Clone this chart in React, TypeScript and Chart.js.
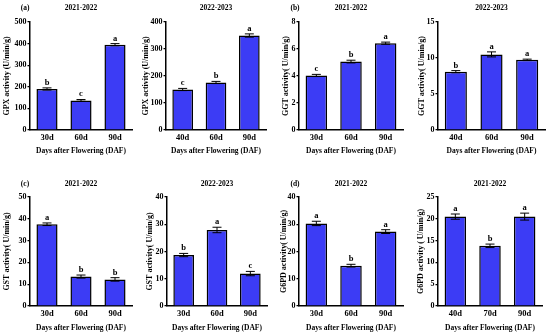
import React, { useEffect, useRef } from "react";
import { Chart, registerables } from "chart.js";
Chart.register(...registerables);

// ---- data ----
const labelsA = ["30d", "60d", "90d"];
const labelsB = ["40d", "60d", "90d"];
const labelsC = ["30d", "60d", "90d"];
const labelsD = ["40d", "70d", "90d"];

const gpx2122 = [190, 137, 395];
const gpx2122Err = [5, 4, 5];
const gpx2122Sig = ["b", "c", "a"];

const gpx2223 = [150, 176, 350];
const gpx2223Err = [4, 4, 6];
const gpx2223Sig = ["c", "b", "a"];

const ggt2122 = [4.04, 5.07, 6.43];
const ggt2122Err = [0.08, 0.1, 0.08];
const ggt2122Sig = ["c", "b", "a"];

const ggt2223 = [8.1, 10.5, 9.74];
const ggt2223Err = [0.15, 0.35, 0.1];
const ggt2223Sig = ["b", "a", "a"];

const gst2122 = [37.5, 13.5, 12.2];
const gst2122Err = [0.6, 0.7, 0.8];
const gst2122Sig = ["a", "b", "b"];

const gst2223 = [18.7, 27.9, 11.9];
const gst2223Err = [0.6, 1.0, 0.8];
const gst2223Sig = ["b", "a", "c"];

const g6pdA = [30.3, 14.8, 27.3];
const g6pdAErr = [0.8, 0.5, 0.7];
const g6pdASig = ["a", "b", "a"];

const g6pdB = [20.5, 13.8, 20.5];
const g6pdBErr = [0.6, 0.4, 0.8];
const g6pdBSig = ["a", "b", "a"];

const yMaxes = [500, 400, 8, 15, 50, 40, 40, 25];
const ySteps = [100, 100, 2, 5, 10, 10, 10, 5];
const titles = ["2021-2022", "2022-2023", "2021-2022", "2022-2023", "2021-2022", "2022-2023", "2021-2022", "2021-2022"];
const yTitles = [
  "GPX activity (U/min/g)",
  "GPX activity (U/min/g)",
  "GGT activity( U/min/g)",
  "GGT activity( U/min/g)",
  "GST activity( U/min/g)",
  "GST activity( U/min/g)",
  "G6PD activity( U/min/g)",
  "G6PD activity ( U/min/g)",
];
const tags = ["(a)", "", "(b)", "", "(c)", "", "(d)", ""];
const xTitle = "Days after Flowering (DAF)";

const panels = [
  { labels: labelsA, values: gpx2122, errors: gpx2122Err, sig: gpx2122Sig },
  { labels: labelsB, values: gpx2223, errors: gpx2223Err, sig: gpx2223Sig },
  { labels: labelsA, values: ggt2122, errors: ggt2122Err, sig: ggt2122Sig },
  { labels: labelsB, values: ggt2223, errors: ggt2223Err, sig: ggt2223Sig },
  { labels: labelsC, values: gst2122, errors: gst2122Err, sig: gst2122Sig },
  { labels: labelsC, values: gst2223, errors: gst2223Err, sig: gst2223Sig },
  { labels: labelsC, values: g6pdA, errors: g6pdAErr, sig: g6pdASig },
  { labels: labelsD, values: g6pdB, errors: g6pdBErr, sig: g6pdBSig },
];

// ---- layout ----
const layouts = [
  { left: 0, top: 0, row: 0, padLeft: 2.2, axisX: 30, right: 132 },
  { left: 130, top: 0, row: 0, padLeft: 11.5, axisX: 36, right: 136 },
  { left: 270, top: 0, row: 0, padLeft: 11, axisX: 29, right: 133 },
  { left: 410, top: 0, row: 0, padLeft: 7.5, axisX: 28, right: 135 },
  { left: 0, top: 165, row: 1, padLeft: 2.2, axisX: 30, right: 132 },
  { left: 130, top: 165, row: 1, padLeft: 15.5, axisX: 37, right: 137 },
  { left: 270, top: 165, row: 1, padLeft: 9, axisX: 29, right: 133 },
  { left: 410, top: 165, row: 1, padLeft: 6.5, axisX: 28, right: 132 },
];
const rowGeom = [
  { height: 165, padTop: 22, padBottom: 9.5, xH: 25.5, titleY: 8 },
  { height: 170, padTop: 32, padBottom: 2.5, xH: 26.5, titleY: 19 },
];
const CW = 140;
const FONT = "'Liberation Serif', 'Times New Roman', serif";
const BLUE = "#3c3cf5";

function makePlugin(idx: number) {
  const p = panels[idx];
  const g = rowGeom[layouts[idx].row];
  return {
    id: "annot" + idx,
    afterDatasetsDraw(chart: any) {
      const ctx = chart.ctx;
      const meta = chart.getDatasetMeta(0);
      const ys = chart.scales.y;
      ctx.save();
      ctx.strokeStyle = "#000";
      ctx.lineWidth = 1;
      ctx.fillStyle = "#000";
      meta.data.forEach((bar: any, i: number) => {
        const v = p.values[i];
        const e = p.errors[i];
        const yt = ys.getPixelForValue(v + e);
        const yb = ys.getPixelForValue(v - e);
        const x = bar.x;
        ctx.beginPath();
        ctx.moveTo(x, yt);
        ctx.lineTo(x, yb);
        ctx.moveTo(x - 4.5, yt);
        ctx.lineTo(x + 4.5, yt);
        ctx.moveTo(x - 4.5, yb);
        ctx.lineTo(x + 4.5, yb);
        ctx.stroke();
        ctx.font = "bold 8.5px " + FONT;
        ctx.textAlign = "center";
        ctx.textBaseline = "bottom";
        ctx.fillText(p.sig[i], x, yt - 1);
      });
      ctx.font = "bold 7.5px " + FONT;
      ctx.textBaseline = "middle";
      ctx.textAlign = "center";
      const ca = chart.chartArea;
      ctx.fillText(titles[idx], (ca.left + ca.right) / 2, g.titleY);
      if (tags[idx]) ctx.fillText(tags[idx], 25, g.titleY);
      ctx.restore();
    },
  };
}

function Panel({ idx }: { idx: number }) {
  const ref = useRef<HTMLCanvasElement>(null);
  const L = layouts[idx];
  const g = rowGeom[L.row];
  useEffect(() => {
    const p = panels[idx];
    const chart = new Chart(ref.current!, {
      type: "bar",
      data: {
        labels: p.labels,
        datasets: [
          {
            data: p.values,
            backgroundColor: BLUE,
            borderColor: "#000",
            borderWidth: 1.5,
            categoryPercentage: 1,
            barPercentage: 0.62,
          },
        ],
      },
      options: {
        responsive: false,
        animation: false,
        devicePixelRatio: 1,
        layout: {
          padding: { top: g.padTop, bottom: g.padBottom, left: L.padLeft, right: CW - L.right },
        },
        plugins: { legend: { display: false }, tooltip: { enabled: false }, title: { display: false } },
        scales: {
          x: {
            grid: { display: false, drawTicks: false, tickLength: 0 },
            border: { display: true, color: "#000", width: 1.5 },
            ticks: { color: "#000", font: { family: FONT, size: 8.5, weight: "bold" }, padding: 3, maxRotation: 0 },
            title: { display: true, text: xTitle, color: "#000", font: { family: FONT, size: 7.5, weight: "bold" }, padding: 0 },
            afterFit: (s: any) => {
              s.height = g.xH;
            },
          },
          y: {
            min: 0,
            max: yMaxes[idx],
            ticks: { stepSize: ySteps[idx], color: "#000", font: { family: FONT, size: 8, weight: "bold" }, padding: 1 },
            grid: { display: true, drawOnChartArea: false, drawTicks: true, tickLength: 2.5, color: "#000", lineWidth: 1.2 },
            border: { display: true, color: "#000", width: 1.5 },
            title: { display: true, text: yTitles[idx], color: "#000", font: { family: FONT, size: 8, weight: "bold" }, padding: 0 },
            afterFit: (s: any) => {
              s.width = L.axisX - L.padLeft;
            },
          },
        },
      },
      plugins: [makePlugin(idx)],
    } as any);
    return () => chart.destroy();
  }, [idx]);
  return (
    <canvas
      ref={ref}
      width={CW}
      height={g.height}
      style={{ position: "absolute", left: L.left, top: L.top, width: CW, height: g.height }}
    />
  );
}

export default function App() {
  return (
    <div style={{ position: "fixed", left: 0, top: 0, width: 550, height: 335, background: "#fff", overflow: "hidden" }}>
      {panels.map((_, i) => (
        <Panel key={i} idx={i} />
      ))}
    </div>
  );
}
